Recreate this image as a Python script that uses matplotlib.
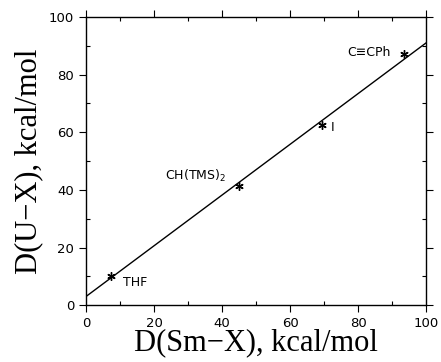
import matplotlib
matplotlib.use("Agg")
import matplotlib.pyplot as plt
import numpy as np

labels = ["THF", "CH(TMS)$_2$", "I", "C≡CPh"]
d_sm = [7.5, 45.0, 69.5, 93.5]
d_u = [10.0, 41.5, 62.5, 87.0]
fit_x = [0, 100]
fit_y = [3.0, 91.0]
label_pos = [(11, 7.8), (23.2, 45.0), (72, 61.5), (76.8, 87.8)]

fig = plt.figure(figsize=(4.41, 3.62), dpi=100)
ax = fig.add_axes([0.195, 0.157, 0.771, 0.796])
ax.plot(fit_x, fit_y, color="black", lw=1.0)
ax.plot(d_sm, d_u, linestyle="none", marker=(6, 2, 0), markersize=6, color="black", mew=1.0)
for lab, (lx, ly) in zip(labels, label_pos):
    ax.text(lx, ly, lab, fontsize=9, family="DejaVu Sans", va="center", ha="left")

ax.set_xlim(0, 100)
ax.set_ylim(0, 100)
ax.set_xticks(np.arange(0, 101, 20))
ax.set_yticks(np.arange(0, 101, 20))
ax.set_xticks(np.arange(10, 100, 20), minor=True)
ax.set_yticks(np.arange(10, 100, 20), minor=True)
ax.tick_params(which="major", direction="out", length=5, width=0.8, labelsize=9.5, top=True, right=True)
ax.tick_params(which="minor", direction="in", length=3, width=0.8, top=True, right=True)
for t in ax.get_xticklabels() + ax.get_yticklabels():
    t.set_family("DejaVu Sans")
for s in ax.spines.values():
    s.set_linewidth(1.0)
ax.set_xlabel("D(Sm−X), kcal/mol", family="Liberation Serif", fontsize=22, labelpad=-1)
ax.set_ylabel("D(U−X), kcal/mol", family="Liberation Serif", fontsize=22, labelpad=4)
fig.savefig("out.png", dpi=100)
